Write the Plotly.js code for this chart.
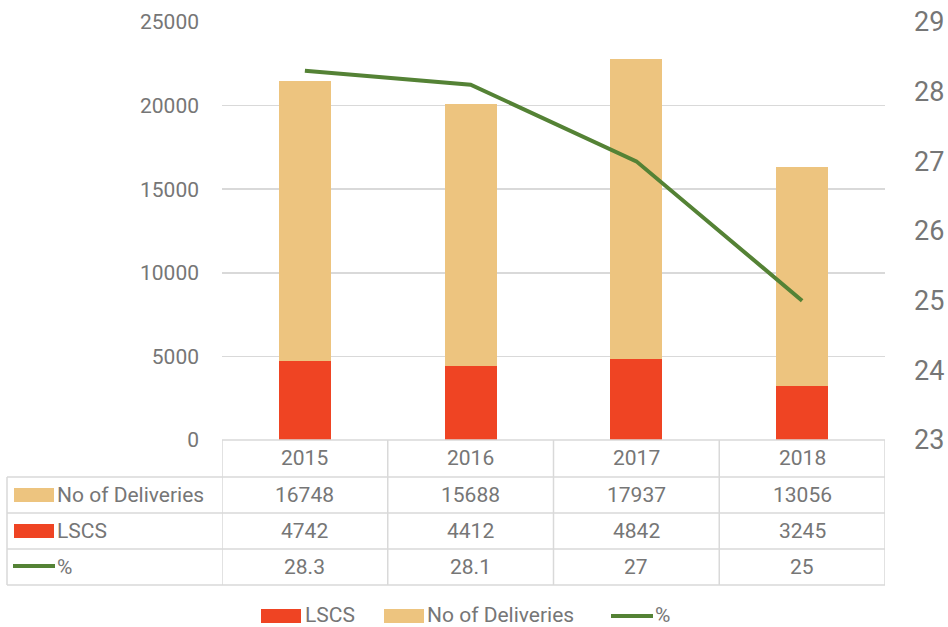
<!DOCTYPE html>
<html>
<head>
<meta charset="utf-8">
<script src="https://cdn.plot.ly/plotly-3.0.1.min.js"></script>
<style>html,body{margin:0;padding:0;background:#fff;}#chart{width:948px;height:627px;}</style>
</head>
<body>
<div id="chart"></div>
<script>
// ---- data ----
const years = ["2015", "2016", "2017", "2018"];
const deliveries = [16748, 15688, 17937, 13056];
const lscs = [4742, 4412, 4842, 3245];
const percent = [28.3, 28.1, 27, 25];
const percentLabels = ["28.3", "28.1", "27", "25"];
const seriesNames = ["LSCS", "No of Deliveries", "%"];

// ---- styles ----
const RED = "#EF4423", TAN = "#EDC47F", GREEN = "#548235";
const TXT = "#767676", GRID = "#D9D9D9";
const FONT = "Roboto, 'DejaVu Sans', sans-serif";

// plot area in pixels
const L = 222, R = 885, T = 22, B = 440;
const W = 948, H = 627;
const px = x => (x - L) / (R - L);
const py = y => (B - y) / (B - T);

const traces = [
  {type: "bar", name: seriesNames[0], x: years, y: lscs, marker: {color: RED}, width: 0.315, hoverinfo: "y"},
  {type: "bar", name: seriesNames[1], x: years, y: deliveries, marker: {color: TAN}, width: 0.315, hoverinfo: "y"},
  {type: "scatter", mode: "lines", name: seriesNames[2], x: years, y: percent, yaxis: "y2",
   line: {color: GREEN, width: 4}}
];

const shapes = [];
const annotations = [];
const line = (x0, y0, x1, y1, xref) => shapes.push({type: "line", xref: xref || "paper", yref: "paper",
  x0: x0, y0: y0, x1: x1, y1: y1, line: {color: GRID, width: 1.5}, layer: "above"});

// table horizontal lines
const rowLines = [477, 513, 549, 585];
line(px(L), py(B), px(R), py(B));
rowLines.forEach(y => line(px(7), py(y), px(R), py(y)));
// table vertical lines
line(px(7), py(477), px(7), py(585));
for (let i = 0; i <= years.length; i++) {
  line(i - 0.5, py(B), i - 0.5, py(585), "x");
}

const rowCenters = [458, 495, 531, 567];
const tfont = {family: FONT, size: 21, color: TXT};
const rows = [years, deliveries.map(String), lscs.map(String), percentLabels];
rows.forEach((vals, r) => {
  vals.forEach((v, i) => {
    annotations.push({xref: "x", yref: "paper", x: i, y: py(rowCenters[r]), text: v,
      showarrow: false, font: tfont, xanchor: "center", yanchor: "middle"});
  });
});

// row headers with legend keys
const rect = (x0, y0, x1, y1, c) => shapes.push({type: "rect", xref: "paper", yref: "paper",
  x0: px(x0), y0: py(y0), x1: px(x1), y1: py(y1), fillcolor: c, line: {width: 0}, layer: "above"});
const gline = (x0, x1, y) => shapes.push({type: "line", xref: "paper", yref: "paper",
  x0: px(x0), y0: py(y), x1: px(x1), y1: py(y), line: {color: GREEN, width: 4}, layer: "above"});
const label = (x, y, t) => annotations.push({xref: "paper", yref: "paper", x: px(x), y: py(y), text: t,
  showarrow: false, font: tfont, xanchor: "left", yanchor: "middle"});

rect(14, 488, 54, 502, TAN); label(55, 495, seriesNames[1]);
rect(14, 524, 54, 538, RED); label(55, 531, seriesNames[0]);
gline(13, 55, 566); label(55, 567, seriesNames[2]);

// bottom legend
rect(261, 609, 301, 623, RED); label(303, 615, seriesNames[0]);
rect(384, 609, 424, 623, TAN); label(425, 615, seriesNames[1]);
gline(611, 653, 616); label(653, 615, seriesNames[2]);

const layout = {
  width: W, height: H,
  margin: {l: L, r: W - R, t: T, b: H - B, pad: 0},
  paper_bgcolor: "#fff", plot_bgcolor: "#fff",
  barmode: "stack",
  showlegend: false,
  font: {family: FONT, color: TXT},
  xaxis: {type: "category", showticklabels: false, showgrid: false, zeroline: false, showline: false,
    range: [-0.5, 3.5], fixedrange: true},
  yaxis: {range: [0, 25000], dtick: 5000, showgrid: true, gridcolor: GRID, gridwidth: 1.5,
    zeroline: false, showline: false, ticks: "", ticklabelstandoff: 22,
    exponentformat: "none", separatethousands: false, tickformat: "d",
    tickfont: {family: FONT, size: 21, color: TXT}},
  yaxis2: {overlaying: "y", side: "right", range: [23, 29], dtick: 1, showgrid: false, zeroline: false,
    showline: false, ticks: "", ticklabelstandoff: 28,
    tickfont: {family: FONT, size: 27, color: TXT}},
  shapes: shapes,
  annotations: annotations
};

Plotly.newPlot("chart", traces, layout, {displayModeBar: false, staticPlot: true});
</script>
</body>
</html>
